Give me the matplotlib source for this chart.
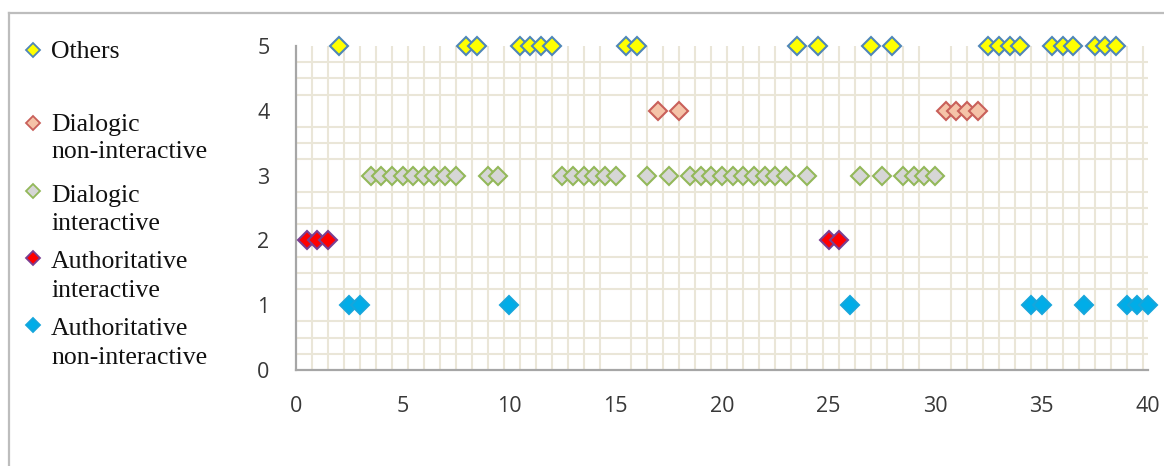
import matplotlib
matplotlib.use("Agg")
import matplotlib.pyplot as plt
from matplotlib.lines import Line2D
from matplotlib.ticker import MultipleLocator

# ---- data ----
series_names = ["Others", "Dialogic\nnon-interactive", "Dialogic\ninteractive",
                "Authoritative\ninteractive", "Authoritative\nnon-interactive"]
series_levels = [5, 4, 3, 2, 1]

others_x = [2, 8, 8.5, 10.5, 11, 11.5, 12, 15.5, 16, 23.5, 24.5, 27, 28,
            32.5, 33, 33.5, 34, 35.5, 36, 36.5, 37.5, 38, 38.5]
dialogic_non_x = [17, 18, 30.5, 31, 31.5, 32]
dialogic_int_x = [3.5, 4, 4.5, 5, 5.5, 6, 6.5, 7, 7.5, 9, 9.5,
                  12.5, 13, 13.5, 14, 14.5, 15, 16.5, 17.5, 18.5, 19, 19.5,
                  20, 20.5, 21, 21.5, 22, 22.5, 23, 24, 26.5, 27.5,
                  28.5, 29, 29.5, 30]
auth_int_x = [0.5, 1, 1.5, 25, 25.5]
auth_non_x = [2.5, 3, 10, 26, 34.5, 35, 37, 39, 39.5, 40]

x_ticks = [0, 5, 10, 15, 20, 25, 30, 35, 40]
y_ticks = [0, 1, 2, 3, 4, 5]

series_x = [others_x, dialogic_non_x, dialogic_int_x, auth_int_x, auth_non_x]

# ---- styles ----
styles = [
    dict(mfc="#FFFF00", mec="#4F86B8"),
    dict(mfc="#F5C3A8", mec="#C9605A"),
    dict(mfc="#D6D6D6", mec="#93B85A"),
    dict(mfc="#FF0000", mec="#7A3E92"),
    dict(mfc="#00ADE8", mec="#16A6DC"),
]

W, H = 1164, 466
fig = plt.figure(figsize=(W / 100, H / 100), dpi=100)
ax = fig.add_axes([296 / W, 1 - 370 / H, (1148 - 296) / W, (370 - 46) / H])

for xs, lvl, st in zip(series_x, series_levels, styles):
    ax.plot(xs, [lvl] * len(xs), linestyle="none", marker="D", ms=9.2,
            mew=1.5, clip_on=False, zorder=5, **st)

ax.set_xlim(0, 40)
ax.set_ylim(0, 5)
ax.set_xticks(x_ticks)
ax.set_yticks(y_ticks)
ax.xaxis.set_minor_locator(MultipleLocator(0.75))
ax.yaxis.set_minor_locator(MultipleLocator(0.25))
ax.grid(False, which="major")
ax.grid(True, which="minor", color="#EAE6D8", lw=1.5)
ax.set_axisbelow(True)
ax.tick_params(which="both", length=0)
ax.tick_params(which="major", pad=19, labelsize=15.5, labelcolor="#383838")
for lab in ax.get_xticklabels() + ax.get_yticklabels():
    lab.set_family(["Open Sans", "DejaVu Sans"])
for s in ["top", "right"]:
    ax.spines[s].set_visible(False)
for s in ["left", "bottom"]:
    ax.spines[s].set_color("#A6A6A6")
    ax.spines[s].set_linewidth(1.6)

# ---- legend (manual layout like Excel) ----
marker_y = [50, 123, 191, 258, 325]
line_baselines = [[58], [131.5, 158.5], [202, 230], [268, 297], [335, 364]]
for name, my, bls, st in zip(series_names, marker_y, line_baselines, styles):
    fig.add_artist(Line2D([33 / W], [1 - my / H], transform=fig.transFigure,
                          linestyle="none", marker="D", ms=7.5, mew=1.3, **st))
    for line, bl in zip(name.split("\n"), bls):
        fig.text(51 / W, 1 - bl / H, line, ha="left", va="baseline",
                 fontsize=18.5, family=["Liberation Serif", "DejaVu Serif"],
                 color="#111111")

# ---- outer frame ----
fig.add_artist(Line2D([9 / W, 9 / W], [0, 1 - 13 / H], transform=fig.transFigure,
                      color="#BDBDBD", lw=1.6))
fig.add_artist(Line2D([9 / W, 1], [1 - 13 / H, 1 - 13 / H], transform=fig.transFigure,
                      color="#BDBDBD", lw=1.6))

fig.savefig("out.png", dpi=100)
